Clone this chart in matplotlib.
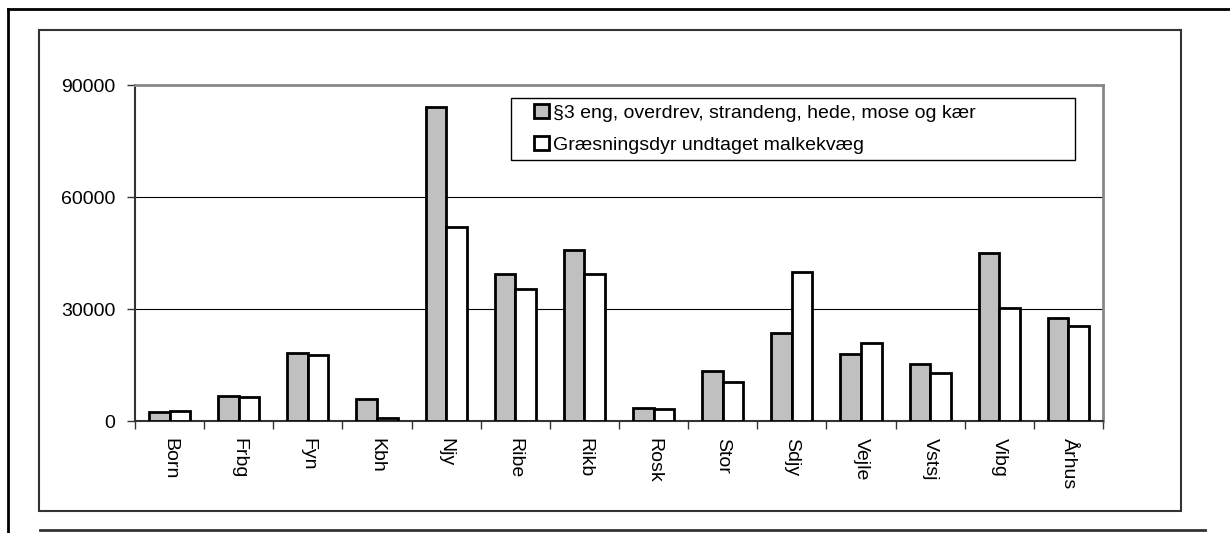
import matplotlib.pyplot as plt
import numpy as np
from matplotlib.lines import Line2D
from matplotlib.patches import Rectangle

plt.rcParams['font.family'] = ['Liberation Sans', 'DejaVu Sans']

regions = ["Born", "Frbg", "Fyn", "Kbh", "Njy", "Ribe", "Rikb", "Rosk",
           "Stor", "Sdjy", "Vejle", "Vstsj", "Vibg", "Århus"]
paragraf3 = [2300, 6800, 18300, 5900, 84000, 39500, 45700, 3400,
             13400, 23600, 17900, 15300, 44900, 27500]
graesning = [2700, 6500, 17800, 900, 52000, 35400, 39300, 3200,
             10400, 39900, 20800, 12800, 30400, 25400]
label1 = "§3 eng, overdrev, strandeng, hede, mose og kær"
label2 = "Græsningsdyr undtaget malkekvæg"
yticks = [0, 30000, 60000, 90000]

W, H = 1230, 533

def fx(px):
    return px / W

def fy(py):
    return 1 - py / H

fig = plt.figure(figsize=(W / 100, H / 100), dpi=100)

# outer frame lines
fig.add_artist(Line2D([fx(8), fx(8)], [fy(533), fy(9)], color='black', lw=2, transform=fig.transFigure))
fig.add_artist(Line2D([fx(8), fx(1230)], [fy(9), fy(9)], color='black', lw=2, transform=fig.transFigure))
fig.add_artist(Line2D([fx(40), fx(1205)], [fy(530), fy(530)], color='#333333', lw=2, transform=fig.transFigure))
# chart area box
fig.add_artist(Rectangle((fx(39), fy(511)), fx(1181) - fx(39), fy(30) - fy(511),
                         fill=False, edgecolor='#333333', lw=1.5, transform=fig.transFigure))

ax = fig.add_axes([fx(135), fy(421), fx(1103) - fx(135), fy(85) - fy(421)])

x = np.arange(len(regions))
bw = 0.297
ax.bar(x - bw / 2, paragraf3, bw, color='#c0c0c0', edgecolor='black', lw=2, label=label1, zorder=3)
ax.bar(x + bw / 2, graesning, bw, color='white', edgecolor='black', lw=2, label=label2, zorder=3)

ax.set_xlim(-0.5, len(regions) - 0.5)
ax.set_ylim(0, 90000)
ax.set_yticks(yticks)
ax.set_yticklabels([str(v) for v in yticks], fontsize=14)
ax.tick_params(axis='y', length=6, width=1, color='#333333', pad=8)
ax.yaxis.grid(True, color='black', lw=0.8, zorder=0)

ax.set_xticks(x)
ax.set_xticklabels(regions, rotation=-90, fontsize=14, va='top')
ax.set_xticks(np.arange(len(regions) + 1) - 0.5, minor=True)
ax.tick_params(axis='x', which='major', length=0, pad=12)
ax.tick_params(axis='x', which='minor', length=6, width=1, color='#333333')

for side in ['top', 'right']:
    ax.spines[side].set_color('#888888')
    ax.spines[side].set_linewidth(2)
for side in ['left', 'bottom']:
    ax.spines[side].set_color('#333333')
    ax.spines[side].set_linewidth(1.5)

# legend box (frame drawn separately so the entries sit inset like the original)
def ax_px(px, py):
    return ((px - 135) / 968, (421 - py) / 336)

x0, y0 = ax_px(511, 160)
x1, y1 = ax_px(1075, 98)
ax.add_patch(Rectangle((x0, y0), x1 - x0, y1 - y0, transform=ax.transAxes,
                       facecolor='white', edgecolor='black', lw=1, zorder=4))
leg = ax.legend(loc='center left', bbox_to_anchor=ax_px(534, 129),
                fontsize=14, frameon=False,
                handlelength=0.75, handleheight=0.75, handletextpad=0.25,
                borderaxespad=0, labelspacing=0.72, borderpad=0)
leg.set_zorder(5)

fig.savefig('out.png', dpi=100)
